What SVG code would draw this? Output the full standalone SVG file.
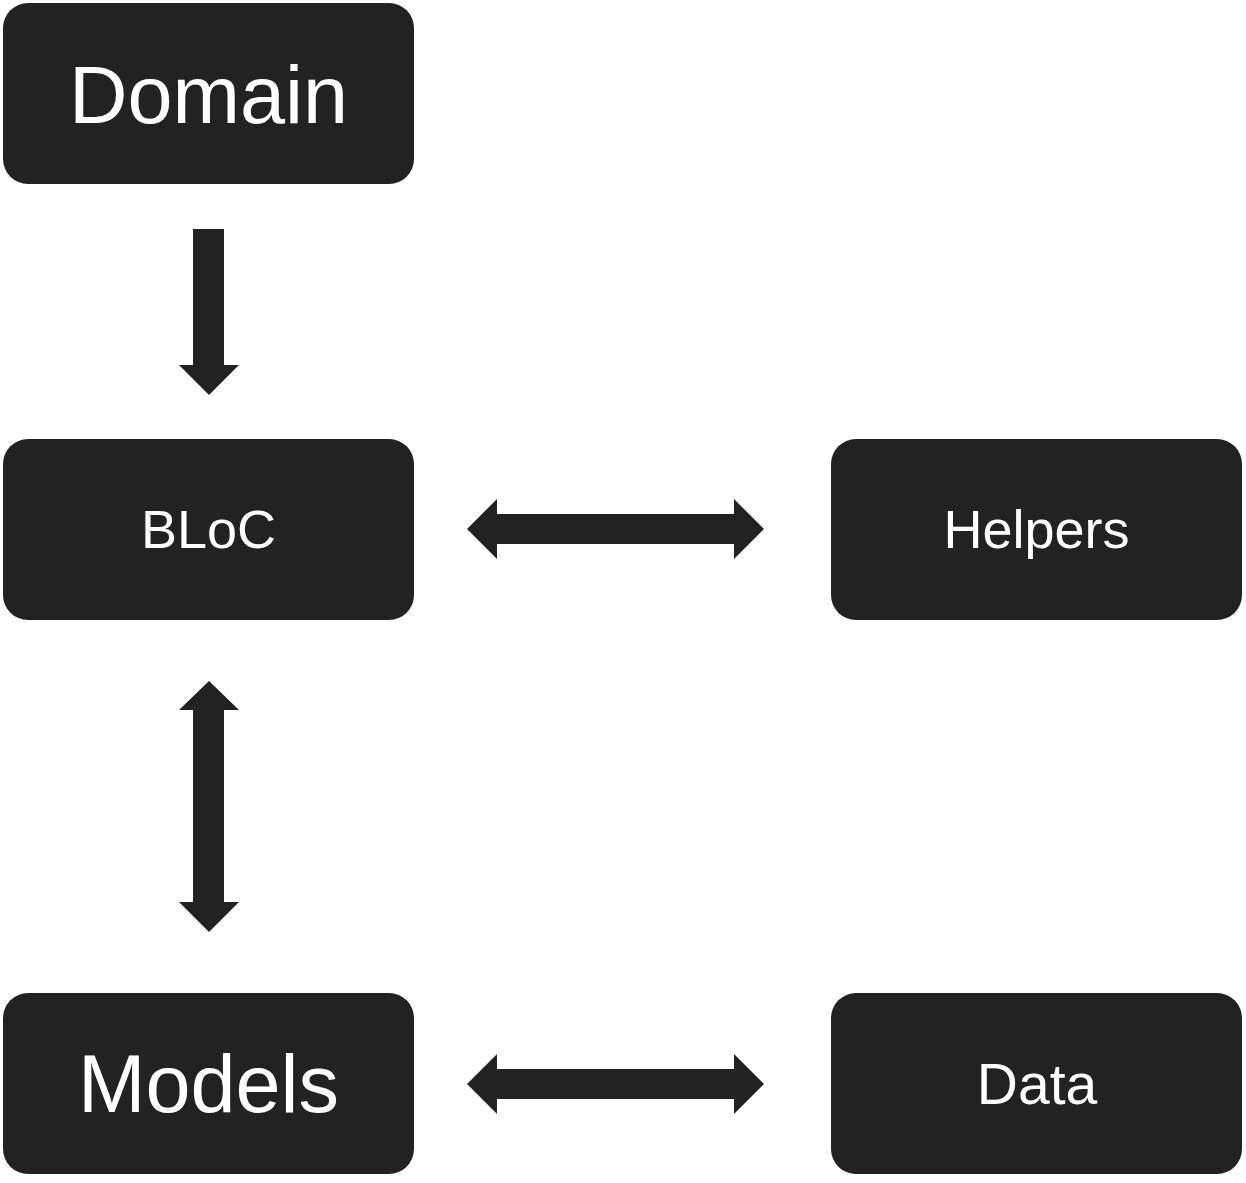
<svg xmlns="http://www.w3.org/2000/svg" width="1246" height="1183" viewBox="0 0 1246 1183">
<style>
.box{fill:#222222;}
.lbl{fill:#ffffff;font-family:"Liberation Sans",Arial,sans-serif;text-anchor:middle;}
.big{font-size:81px;}
.small{font-size:54px;}
.arr{fill:#222222;}
</style>
<rect width="1246" height="1183" fill="#ffffff"/>
<g id="connectors">
<polygon class="arr" points="193,229 224,229 224,365 239,365 209,395 179,365 193,365"/>
<polygon class="arr" points="467,529 497,499 497,514 734,514 734,499 764,529 734,559 734,544 497,544 497,559"/>
<polygon class="arr" points="209,681 239,710 224,710 224,902 239,902 209,932 179,902 193,902 193,710 179,710"/>
<polygon class="arr" points="467,1084 497,1054 497,1069 734,1069 734,1054 764,1084 734,1114 734,1099 497,1099 497,1114"/>
</g>
<g id="domain"><rect class="box" x="3" y="3" width="411" height="181" rx="25"/><text class="lbl big" x="208.5" y="123">Domain</text></g>
<g id="bloc"><rect class="box" x="3" y="439" width="411" height="181" rx="25"/><text class="lbl small" x="208.5" y="548">BLoC</text></g>
<g id="helpers"><rect class="box" x="831" y="439" width="411" height="181" rx="25"/><text class="lbl small" x="1036.5" y="548">Helpers</text></g>
<g id="models"><rect class="box" x="3" y="993" width="411" height="181" rx="25"/><text class="lbl big" x="208.5" y="1112">Models</text></g>
<g id="data"><rect class="box" x="831" y="993" width="411" height="181" rx="25"/><text class="lbl" style="font-size:57px" x="1037" y="1104">Data</text></g>
</svg>
